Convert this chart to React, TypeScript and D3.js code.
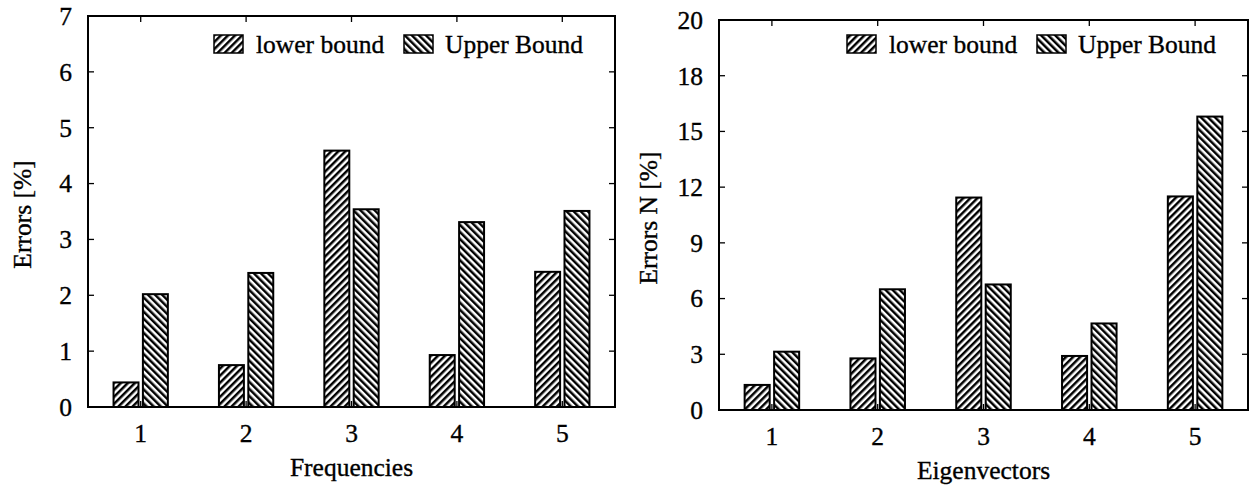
import React from "react";
import * as d3 from "d3";

// Categories shared by both panels
const categories = ["1", "2", "3", "4", "5"];
const seriesNames = ["lower bound", "Upper Bound"];

// Frequency errors [%]
const freqLower = [0.44, 0.75, 4.59, 0.93, 2.42];
const freqUpper = [2.02, 2.4, 3.54, 3.31, 3.51];
const freqTicks = [0, 1, 2, 3, 4, 5, 6, 7];
const freqTickLabels = ["0", "1", "2", "3", "4", "5", "6", "7"];

// Eigenvector errors N [%]
const eigLower = [1.35, 2.78, 11.44, 2.91, 11.5];
const eigUpper = [3.14, 6.5, 6.76, 4.66, 15.8];
const eigTicks = [0, 3, 6, 9, 12, 15, 18, 21];
const eigTickLabels = ["0", "3", "6", "9", "12", "15", "18", "20"];

const FONT = "'Liberation Serif', 'Times New Roman', Times, serif";
const FS = 25.5;
const textStyle = {
  fontFamily: FONT,
  fontSize: FS,
  fill: "#000",
  stroke: "#000",
  strokeWidth: 0.35,
};

type PanelProps = {
  id: string;
  left: number;
  right: number;
  top: number;
  bottom: number;
  ticks: number[];
  tickLabels: string[];
  lower: number[];
  upper: number[];
  xTitle: string;
  yTitle: string;
  yTitleX: number;
};

function Panel(p: PanelProps) {
  const x = d3.scaleBand<string>().domain(categories).range([p.left, p.right]).paddingInner(0).paddingOuter(0);
  const x1 = d3
    .scaleBand<string>()
    .domain(seriesNames)
    .range([0, x.bandwidth()])
    .paddingInner(0.15)
    .paddingOuter(0.87);
  const yMax = p.ticks[p.ticks.length - 1];
  const y = d3.scaleLinear().domain([0, yMax]).range([p.bottom, p.top]);
  const values = [p.lower, p.upper];
  const fills = [`url(#${p.id}-fwd)`, `url(#${p.id}-back)`];
  const tickLen = 6;

  const legendX0 = p.right - 401;
  const legendItems = [
    { sx: legendX0, tx: legendX0 + 42 },
    { sx: legendX0 + 190, tx: legendX0 + 231 },
  ];

  return (
    <g>
      <defs>
        <pattern id={`${p.id}-fwd`} patternUnits="userSpaceOnUse" width={5} height={5} patternTransform="rotate(45)">
          <rect x={0} y={0} width={5} height={5} fill="#fff" />
          <rect x={0} y={0} width={2.5} height={5} fill="#000" />
        </pattern>
        <pattern id={`${p.id}-back`} patternUnits="userSpaceOnUse" width={5} height={5} patternTransform="rotate(-45)">
          <rect x={0} y={0} width={5} height={5} fill="#fff" />
          <rect x={0} y={0} width={2.5} height={5} fill="#000" />
        </pattern>
      </defs>

      {/* category ticks on the bottom and top edges */}
      {categories.map((c) => {
        const cx = (x(c) as number) + x.bandwidth() / 2;
        return (
          <g key={`ct-${c}`}>
            <line x1={cx} x2={cx} y1={p.bottom} y2={p.bottom - tickLen} stroke="#000" strokeWidth={1.3} />
            <line x1={cx} x2={cx} y1={p.top} y2={p.top + tickLen} stroke="#000" strokeWidth={1.3} />
          </g>
        );
      })}

      {/* bars */}
      {categories.map((c, i) =>
        seriesNames.map((s, k) => {
          const bx = (x(c) as number) + (x1(s) as number);
          const v = values[k][i];
          return (
            <rect
              key={`b-${c}-${s}`}
              x={bx}
              y={y(v)}
              width={x1.bandwidth()}
              height={y(0) - y(v)}
              fill={fills[k]}
              stroke="#000"
              strokeWidth={2}
            />
          );
        })
      )}

      {/* frame */}
      <rect
        x={p.left}
        y={p.top}
        width={p.right - p.left}
        height={p.bottom - p.top}
        fill="none"
        stroke="#000"
        strokeWidth={2}
      />

      {/* y ticks on both sides */}
      {p.ticks.map((t, i) => (
        <g key={`yt-${t}`}>
          <line x1={p.left} x2={p.left + tickLen} y1={y(t)} y2={y(t)} stroke="#000" strokeWidth={1.3} />
          <line x1={p.right} x2={p.right - tickLen} y1={y(t)} y2={y(t)} stroke="#000" strokeWidth={1.3} />
          <text x={p.left - 16} y={y(t)} dy="0.35em" textAnchor="end" style={textStyle}>
            {p.tickLabels[i]}
          </text>
        </g>
      ))}

      {/* x tick labels */}
      {categories.map((c) => (
        <text
          key={`xl-${c}`}
          x={(x(c) as number) + x.bandwidth() / 2}
          y={p.bottom + 35}
          textAnchor="middle"
          style={textStyle}
        >
          {c}
        </text>
      ))}

      {/* axis titles */}
      <text x={(p.left + p.right) / 2} y={p.bottom + 69} textAnchor="middle" style={textStyle}>
        {p.xTitle}
      </text>
      <text
        transform={`translate(${p.yTitleX},${(p.top + p.bottom) / 2 + 3}) rotate(-90)`}
        textAnchor="middle"
        style={textStyle}
      >
        {p.yTitle}
      </text>

      {/* legend */}
      {seriesNames.map((s, k) => (
        <g key={`lg-${s}`}>
          <rect x={legendItems[k].sx} y={35} width={29} height={18} fill={fills[k]} stroke="#000" strokeWidth={1.5} />
          <text x={legendItems[k].tx} y={53} style={textStyle}>
            {s}
          </text>
        </g>
      ))}
    </g>
  );
}

export default function App() {
  return (
    <svg
      width={1253}
      height={487}
      style={{ position: "absolute", left: 0, top: 0, background: "#fff" }}
    >
      <rect x={0} y={0} width={1253} height={487} fill="#fff" />
      <Panel
        id="freq"
        left={88}
        right={615}
        top={16}
        bottom={407}
        ticks={freqTicks}
        tickLabels={freqTickLabels}
        lower={freqLower}
        upper={freqUpper}
        xTitle="Frequencies"
        yTitle="Errors [%]"
        yTitleX={31}
      />
      <Panel
        id="eig"
        left={719}
        right={1248}
        top={20}
        bottom={410}
        ticks={eigTicks}
        tickLabels={eigTickLabels}
        lower={eigLower}
        upper={eigUpper}
        xTitle="Eigenvectors"
        yTitle="Errors N [%]"
        yTitleX={657}
      />
    </svg>
  );
}
